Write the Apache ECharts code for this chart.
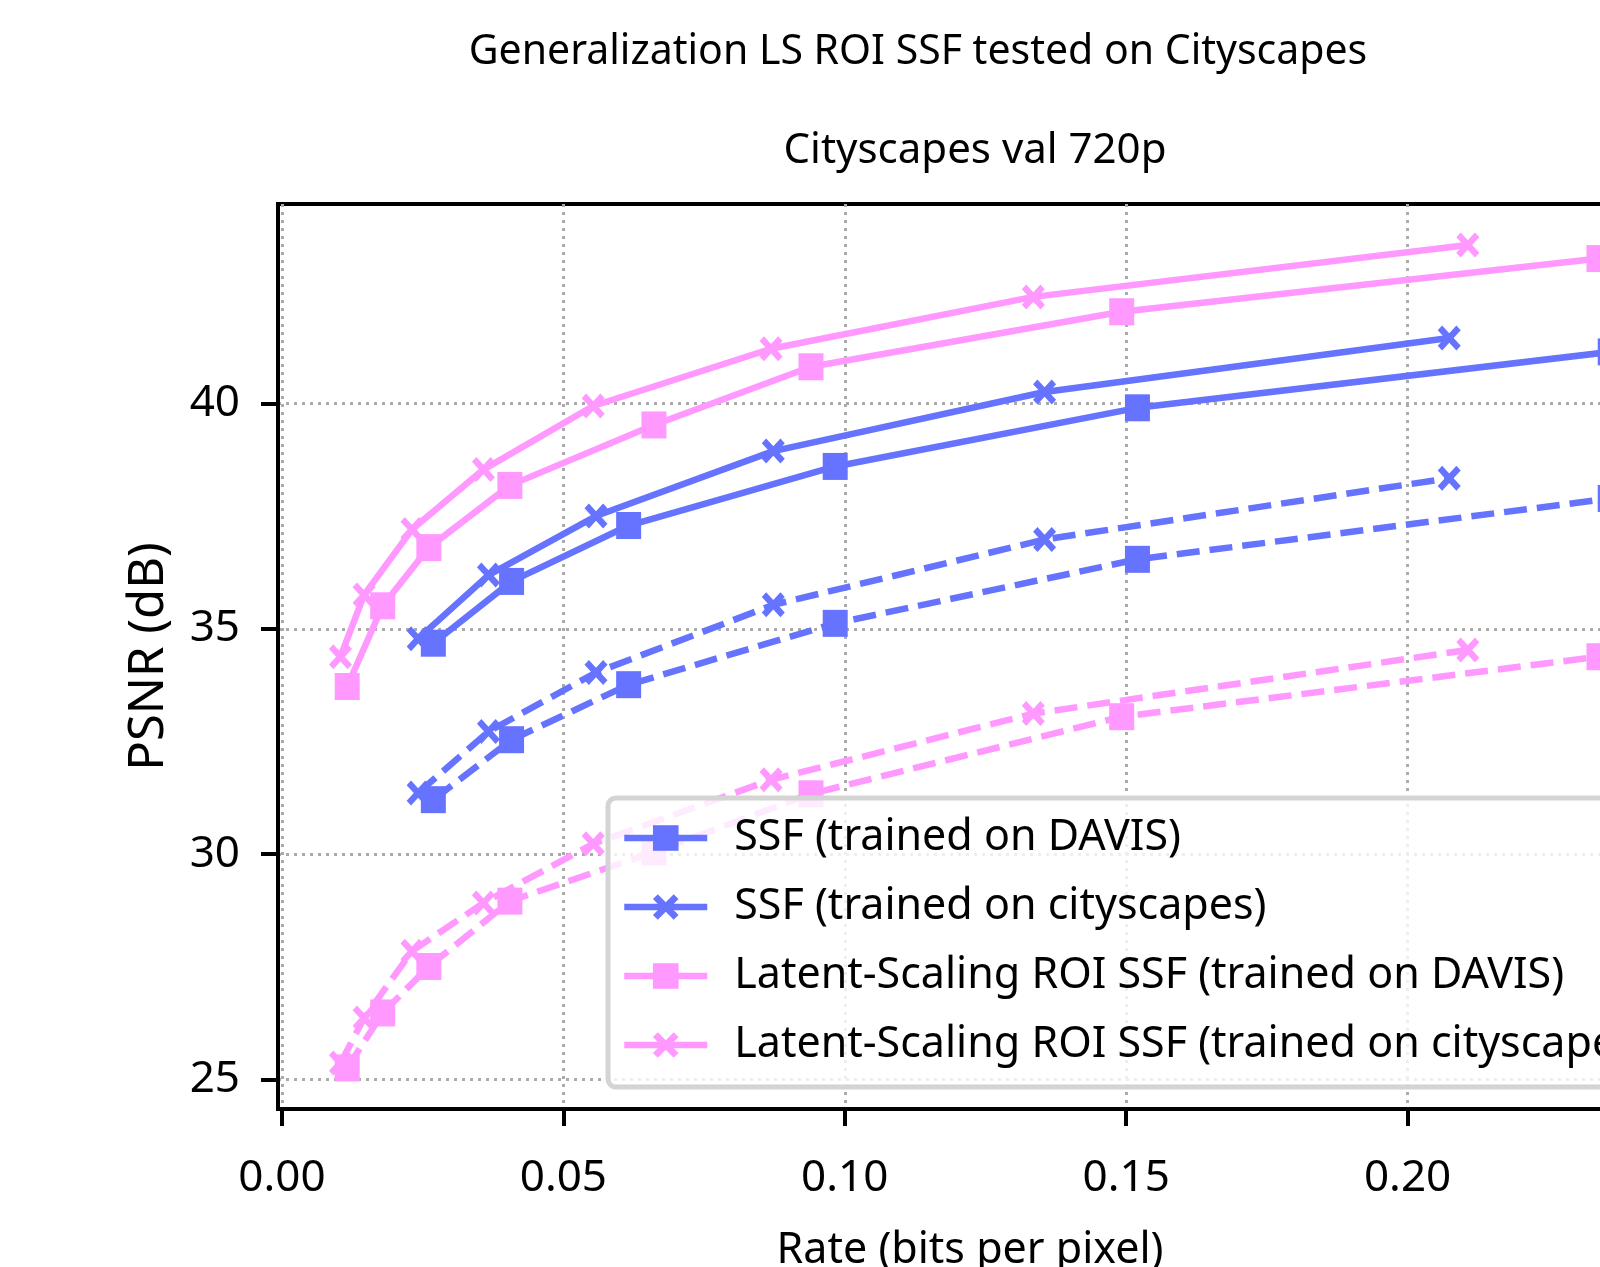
<!DOCTYPE html>
<html><head><meta charset="utf-8">
<script src="https://cdn.jsdelivr.net/npm/echarts@6/dist/echarts.min.js"></script>
<style>html,body{margin:0;padding:0;background:#fff}#c{width:1600px;height:1267px}</style>
</head><body><div id="c"></div>
<script>
// ---- data ----
const xTicks = [0, 0.05, 0.10, 0.15, 0.20, 0.25];
const yTicks = [25, 30, 35, 40];
const legendNames = [
  'SSF (trained on DAVIS)',
  'SSF (trained on cityscapes)',
  'Latent-Scaling ROI SSF (trained on DAVIS)',
  'Latent-Scaling ROI SSF (trained on cityscapes)'
];
const ssfDavisRate   = [0.0269, 0.0408, 0.0616, 0.0983, 0.1520, 0.2360];
const ssfDavisSolid  = [34.68, 36.05, 37.29, 38.60, 39.90, 41.14];
const ssfDavisDashed = [31.21, 32.54, 33.76, 35.12, 36.54, 37.89];
const ssfCityRate    = [0.0242, 0.0367, 0.0558, 0.0873, 0.1355, 0.2074];
const ssfCitySolid   = [34.78, 36.19, 37.50, 38.94, 40.25, 41.45];
const ssfCityDashed  = [31.36, 32.72, 34.03, 35.53, 36.98, 38.34];
const lsDavisRate    = [0.0116, 0.0179, 0.0261, 0.0405, 0.0661, 0.0940, 0.1492, 0.2340];
const lsDavisSolid   = [33.72, 35.51, 36.80, 38.18, 39.52, 40.81, 42.03, 43.21];
const lsDavisDashed  = [25.26, 26.48, 27.51, 28.96, 30.05, 31.34, 33.05, 34.38];
const lsCityRate     = [0.0104, 0.0146, 0.0231, 0.0358, 0.0553, 0.0869, 0.1335, 0.2107];
const lsCitySolid    = [34.38, 35.75, 37.20, 38.53, 39.94, 41.21, 42.36, 43.51];
const lsCityDashed   = [25.37, 26.37, 27.85, 28.92, 30.23, 31.65, 33.12, 34.53];

// ---- styles ----
const BLUE = '#6673FF', PINK = '#FF99FF';
const FONT = '"Noto Sans", "Open Sans", "DejaVu Sans", sans-serif';
const XMARK = 'path://M1.9,0 L5,3.1 L8.1,0 L10,1.9 L6.9,5 L10,8.1 L8.1,10 L5,6.9 L1.9,10 L0,8.1 L3.1,5 L0,1.9 Z';
const zip = (xs, ys) => xs.map((x, i) => [x, ys[i]]);

function mk(name, xs, ys, color, symbol, dashed) {
  return {
    name, type: 'line', data: zip(xs, ys),
    symbol, symbolSize: symbol === 'rect' ? [25, 27] : [23, 25],
    showSymbol: true, animation: false,
    lineStyle: { color, width: 6.5, type: dashed ? [23, 10] : 'solid' },
    itemStyle: { color, borderWidth: 0 },
    emphasis: { disabled: true }
  };
}

const series = [
  mk(legendNames[0], ssfDavisRate, ssfDavisSolid, BLUE, 'rect', false),
  mk(legendNames[1], ssfCityRate, ssfCitySolid, BLUE, XMARK, false),
  mk(legendNames[2], lsDavisRate, lsDavisSolid, PINK, 'rect', false),
  mk(legendNames[3], lsCityRate, lsCitySolid, PINK, XMARK, false),
  mk('SSF (trained on DAVIS) - dashed', ssfDavisRate, ssfDavisDashed, BLUE, 'rect', true),
  mk('SSF (trained on cityscapes) - dashed', ssfCityRate, ssfCityDashed, BLUE, XMARK, true),
  mk('Latent-Scaling ROI SSF (trained on DAVIS) - dashed', lsDavisRate, lsDavisDashed, PINK, 'rect', true),
  mk('Latent-Scaling ROI SSF (trained on cityscapes) - dashed', lsCityRate, lsCityDashed, PINK, XMARK, true)
];

const chart = echarts.init(document.getElementById('c'), null, { renderer: 'canvas' });
chart.setOption({
  animation: false,
  backgroundColor: '#fff',
  title: [
    { text: 'Generalization LS ROI SSF tested on Cityscapes', left: 918, top: 27, textAlign: 'center', padding: 0,
      textStyle: { fontFamily: FONT, fontSize: 41, fontWeight: 'normal', color: '#000', lineHeight: 50 } },
    { text: 'Cityscapes val 720p', left: 975, top: 126, textAlign: 'center', padding: 0,
      textStyle: { fontFamily: FONT, fontSize: 42, fontWeight: 'normal', color: '#000', lineHeight: 50 } }
  ],
  grid: { left: 278, top: 204, width: 1384, height: 905, show: true, borderColor: '#000', borderWidth: 4,
    containLabel: false, outerBoundsMode: 'none' },
  legend: {
    data: legendNames, orient: 'vertical', left: 608, top: 798,
    padding: [16, 20, 18, 13], itemWidth: 83, itemHeight: 32, itemGap: 21,
    backgroundColor: 'rgba(255,255,255,0.8)', borderColor: '#d4d4d4', borderWidth: 5, borderRadius: 8,
    lineStyle: { width: 6.5 },
    textStyle: { fontFamily: FONT, fontSize: 43, color: '#000', lineHeight: 48, padding: [0, 0, 0, 22] },
    selectedMode: false
  },
  xAxis: {
    type: 'value', min: -0.0007, max: 0.2452,
    name: 'Rate (bits per pixel)', nameLocation: 'middle', nameGap: 120,
    nameTextStyle: { fontFamily: FONT, fontSize: 43, color: '#000' },
    axisLine: { show: true, onZero: false, lineStyle: { color: '#000', width: 4 } },
    axisTick: { show: true, inside: false, length: 17, lineStyle: { color: '#000', width: 4 }, customValues: xTicks },
    axisLabel: { fontFamily: FONT, fontSize: 44, color: '#000', margin: 47, customValues: xTicks,
      formatter: v => v.toFixed(2) },
    splitLine: { show: true, lineStyle: { color: '#ababab', width: 3, type: [3, 5] } }
  },
  yAxis: {
    type: 'value', min: 24.35, max: 44.42,
    name: 'PSNR (dB)', nameLocation: 'middle', nameGap: 104,
    nameTextStyle: { fontFamily: FONT, fontSize: 49, color: '#000' },
    axisLine: { show: true, onZero: false, lineStyle: { color: '#000', width: 4 } },
    axisTick: { show: true, inside: false, length: 17, lineStyle: { color: '#000', width: 4 }, customValues: yTicks },
    axisLabel: { fontFamily: FONT, fontSize: 44, color: '#000', margin: 38, customValues: yTicks,
      formatter: v => String(Math.round(v)) },
    splitLine: { show: true, lineStyle: { color: '#ababab', width: 3, type: [3, 5] } }
  },
  series
});
</script>
</body></html>
